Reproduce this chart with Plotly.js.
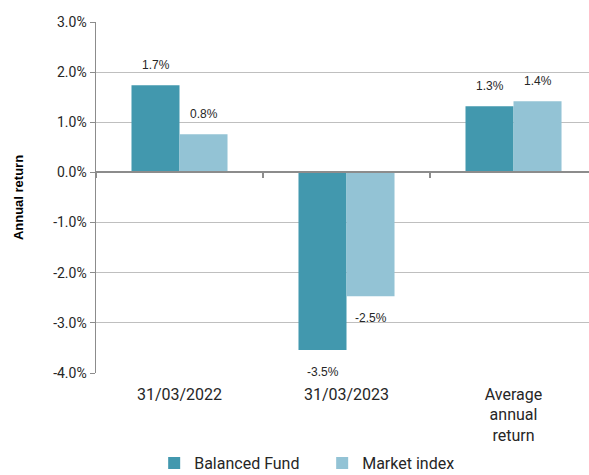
<!DOCTYPE html>
<html>
<head>
<meta charset="utf-8">
<script src="https://cdn.plot.ly/plotly-3.0.1.min.js"></script>
<style>
  html, body { margin: 0; padding: 0; background: #fff; }
  #chart { width: 589px; height: 475px; }
</style>
</head>
<body>
<div id="chart"></div>
<script>
const categories = ['31/03/2022', '31/03/2023', 'Average<br>annual<br>return'];
const balancedFund = [1.74, -3.54, 1.32];
const marketIndex = [0.76, -2.47, 1.42];
const tickVals = [-4, -3, -2, -1, 0, 1, 2, 3];

const fundColor = '#4298ae';
const indexColor = '#93c3d5';
const axisGrey = '#8c8c8c';

const traces = [
  {
    type: 'bar',
    name: 'Balanced Fund',
    x: categories,
    y: balancedFund,
    marker: { color: fundColor },
    hoverinfo: 'skip'
  },
  {
    type: 'bar',
    name: 'Market index',
    x: categories,
    y: marketIndex,
    marker: { color: indexColor },
    hoverinfo: 'skip'
  }
];

// value labels sit a bit further from the bar ends than plotly's 'outside' text
function labelsFor(values, shift) {
  return values.map((v, i) => ({
    x: categories[i],
    y: v,
    xref: 'x',
    yref: 'y',
    text: v.toFixed(1) + '%',
    showarrow: false,
    xshift: shift,
    yshift: v >= 0 ? 20 : -22,
    font: { family: 'Liberation Sans, Arial, sans-serif', size: 12, color: '#262626' }
  }));
}

const layout = {
  width: 589,
  height: 475,
  margin: { l: 96, r: 0, t: 22, b: 102, autoexpand: false },
  paper_bgcolor: '#ffffff',
  plot_bgcolor: '#ffffff',
  font: { family: 'Roboto, sans-serif', color: '#262626' },
  barmode: 'group',
  bargap: 0.425,
  bargroupgap: 0,
  showlegend: true,
  legend: {
    orientation: 'h',
    x: 0.118,
    xanchor: 'left',
    y: -0.257,
    yanchor: 'middle',
    entrywidth: 123,
    font: { family: 'Roboto, sans-serif', size: 16, color: '#262626' }
  },
  xaxis: {
    type: 'category',
    range: [-0.5, 2.452],
    anchor: 'free',
    position: 4 / 7,
    automargin: false,
    showline: true,
    linecolor: axisGrey,
    linewidth: 2,
    ticks: 'outside',
    tickson: 'boundaries',
    ticklen: 5,
    tickcolor: axisGrey,
    tickwidth: 1.5,
    showgrid: false,
    ticklabelstandoff: 207,
    tickfont: { family: 'Roboto, sans-serif', size: 16, color: '#262626' },
    fixedrange: true
  },
  yaxis: {
    range: [-4, 3],
    domain: [0, 1],
    automargin: false,
    tickvals: tickVals,
    ticktext: tickVals.map(v => v.toFixed(1) + '%'),
    showline: true,
    linecolor: axisGrey,
    linewidth: 1.5,
    ticks: 'outside',
    ticklen: 5,
    tickcolor: axisGrey,
    showgrid: true,
    gridcolor: '#bfbfbf',
    gridwidth: 1.2,
    zeroline: false,
    tickfont: { family: 'Roboto, sans-serif', size: 14, color: '#262626' },
    title: {
      text: 'Annual return',
      standoff: 26,
      font: { family: 'Liberation Sans, Arial, sans-serif', size: 13, color: '#000000', weight: 'bold' }
    },
    fixedrange: true
  },
  annotations: labelsFor(balancedFund, -24).concat(labelsFor(marketIndex, 24))
};

Plotly.newPlot('chart', traces, layout, { displayModeBar: false, staticPlot: true });
</script>
</body>
</html>
